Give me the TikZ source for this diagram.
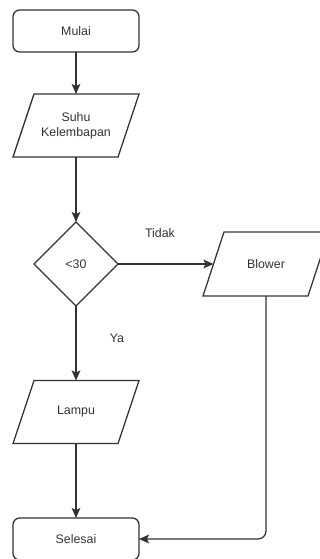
\documentclass[tikz,border=0pt]{standalone}
\usepackage{fontspec}
\setmainfont{Liberation Sans}
\usetikzlibrary{shapes.geometric,arrows.meta}
% outline of an input/output box around a named rectangular node
\newcommand{\ioframe}[1]{%
  \draw[line] ([xshift=-7.875pt]#1.south west) -- ([xshift=-7.875pt]#1.south east)
    -- ([xshift=7.875pt]#1.north east) -- ([xshift=7.875pt]#1.north west) -- cycle;}
\begin{document}
\begin{tikzpicture}[x=0.75pt,y=-0.75pt,
  every node/.style={font=\fontsize{9.3}{11}\selectfont, text=black!80},
  line/.style={draw=black!80, line width=0.95pt},
  arrow/.style={line, -{Stealth[length=7.5pt,width=6.5pt,inset=1.5pt]}},
  terminal/.style={line, rectangle, rounded corners=5pt, minimum width=126*0.75pt,
    minimum height=42*0.75pt, inner sep=0pt, outer sep=0pt},
  iobox/.style={rectangle, minimum width=105*0.75pt, minimum height=63*0.75pt,
    inner sep=0pt, outer sep=0pt, align=center},
  decision/.style={line, diamond, aspect=1, minimum width=84*0.75pt,
    minimum height=84*0.75pt, inner sep=0pt, outer sep=0pt},
  lbl/.style={inner sep=0pt}]
  \useasboundingbox (0,0) rectangle (320,559);

  % main column
  \node[terminal] (start) at (76,31) {Mulai};
  \node[iobox] (input) at (76,125.5) {Suhu\\Kelembapan};
  \ioframe{input}
  \node[decision] (cond) at (76,264) {<30};
  \node[iobox] (lamp) at (76,412) {Lampu};
  \ioframe{lamp}
  \node[terminal] (finish) at (76,539) {Selesai};

  % branch on the right
  \node[iobox, minimum height=64*0.75pt] (blower) at (266,264) {Blower};
  \ioframe{blower}

  % branch labels
  \node[lbl] (no) at (160,233) {Tidak};
  \node[lbl] (yes) at (117,338) {Ya};

  % connectors
  \draw[arrow] (start) -- (input);
  \draw[arrow] (input.south) -- (cond.north);
  \draw[arrow] (cond.east) -- (blower.west);
  \draw[arrow] (cond.south) -- (lamp.north);
  \draw[arrow] (lamp.south) -- (finish.north);
  \draw[arrow, rounded corners=6pt] (blower.south) |- (finish.east);
\end{tikzpicture}
\end{document}
